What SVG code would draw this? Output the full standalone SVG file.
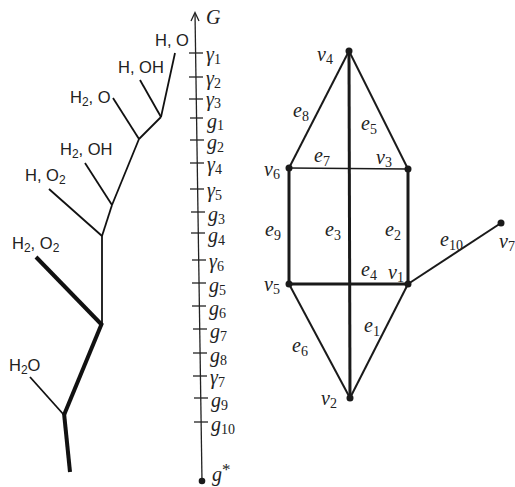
<svg xmlns="http://www.w3.org/2000/svg" width="515" height="487" viewBox="0 0 515 487">
<style>
.t{fill:none;stroke:#111;stroke-width:1.8;stroke-linecap:butt}
.k{fill:none;stroke:#111;stroke-width:4}
.ax{fill:none;stroke:#222;stroke-width:1.3}
.sf{font-family:"Liberation Sans",Arial,sans-serif;font-size:16.5px;fill:#222}
.it{font-family:"Liberation Serif","Times New Roman",serif;font-style:italic;font-size:20px;fill:#222}
.sub{font-size:14px;font-style:normal}
.e1{stroke:#1a1a1a;stroke-width:2;fill:none}
.e2{stroke:#1a1a1a;stroke-width:3;fill:none}
.e0{stroke:#1a1a1a;stroke-width:1.5;fill:none}
.dot{fill:#1a1a1a}
</style>
<g id="tree">
<line class="t" x1="175" y1="53" x2="161" y2="117"/>
<line class="t" x1="140" y1="80" x2="161" y2="117"/>
<line class="t" x1="161" y1="117" x2="139" y2="139"/>
<line class="t" x1="113" y1="98" x2="139" y2="139"/>
<line class="t" x1="139" y1="139" x2="112" y2="205"/>
<line class="t" x1="85" y1="163" x2="112" y2="205"/>
<line class="t" x1="112" y1="205" x2="102" y2="236"/>
<line class="t" x1="49" y1="189" x2="102" y2="236"/>
<line class="t" x1="102" y1="236" x2="102" y2="325"/>
<line class="k" x1="36" y1="257" x2="102" y2="325"/>
<line class="k" x1="102" y1="323" x2="64" y2="415"/>
<line class="t" x1="30" y1="377" x2="64" y2="415"/>
<line class="k" x1="64" y1="413" x2="70" y2="472"/>
<text class="sf" x="155" y="46">H, O</text>
<text class="sf" x="118" y="73">H, OH</text>
<text class="sf" x="70" y="103">H<tspan dy="3" font-size="12">2</tspan><tspan dy="-3">, O</tspan></text>
<text class="sf" x="60" y="155">H<tspan dy="3" font-size="12">2</tspan><tspan dy="-3">, OH</tspan></text>
<text class="sf" x="25" y="181">H, O<tspan dy="3" font-size="12">2</tspan></text>
<text class="sf" x="12" y="249">H<tspan dy="3" font-size="12">2</tspan><tspan dy="-3">, O</tspan><tspan dy="3" font-size="12">2</tspan></text>
<text class="sf" x="9" y="371">H<tspan dy="3" font-size="12">2</tspan><tspan dy="-3">O</tspan></text>
</g>
<g id="axis">
<line class="ax" x1="195" y1="13" x2="202" y2="481"/>
<polyline class="ax" points="191,21 195,12.5 199,21"/>
<text class="it" x="206" y="24">G</text>
<g class="ax">
<line x1="189" y1="53" x2="203" y2="53"/>
<line x1="189" y1="77" x2="203" y2="77"/>
<line x1="189" y1="99" x2="203" y2="99"/>
<line x1="190" y1="118" x2="203" y2="118"/>
<line x1="190" y1="140" x2="204" y2="140"/>
<line x1="190" y1="163" x2="204" y2="163"/>
<line x1="190" y1="189" x2="204" y2="189"/>
<line x1="191" y1="212" x2="205" y2="212"/>
<line x1="191" y1="233" x2="205" y2="233"/>
<line x1="192" y1="260" x2="206" y2="260"/>
<line x1="192" y1="283" x2="206" y2="283"/>
<line x1="192" y1="306" x2="206" y2="306"/>
<line x1="193" y1="329" x2="207" y2="329"/>
<line x1="193" y1="353" x2="207" y2="353"/>
<line x1="193" y1="376" x2="207" y2="376"/>
<line x1="194" y1="398" x2="208" y2="398"/>
<line x1="194" y1="422" x2="208" y2="422"/>
</g>
<g class="it">
<text x="206" y="61">γ<tspan class="sub" dy="3">1</tspan></text>
<text x="206" y="85">γ<tspan class="sub" dy="3">2</tspan></text>
<text x="206" y="106">γ<tspan class="sub" dy="2">3</tspan></text>
<text x="207" y="128">g<tspan class="sub" dy="2">1</tspan></text>
<text x="207" y="149">g<tspan class="sub" dy="3">2</tspan></text>
<text x="207" y="171">γ<tspan class="sub" dy="3">4</tspan></text>
<text x="207" y="197">γ<tspan class="sub" dy="3">5</tspan></text>
<text x="208" y="221">g<tspan class="sub" dy="3">3</tspan></text>
<text x="208" y="242">g<tspan class="sub" dy="3">4</tspan></text>
<text x="209" y="268">γ<tspan class="sub" dy="3">6</tspan></text>
<text x="209" y="292">g<tspan class="sub" dy="3">5</tspan></text>
<text x="209" y="315">g<tspan class="sub" dy="3">6</tspan></text>
<text x="210" y="338">g<tspan class="sub" dy="3">7</tspan></text>
<text x="210" y="362">g<tspan class="sub" dy="3">8</tspan></text>
<text x="210" y="384">γ<tspan class="sub" dy="3">7</tspan></text>
<text x="211" y="407">g<tspan class="sub" dy="3">9</tspan></text>
<text x="211" y="431">g<tspan class="sub" dy="3">10</tspan></text>
<text x="212" y="481">g<tspan dy="-6" font-size="17" font-style="normal">*</tspan></text>
</g>
<circle class="dot" cx="202" cy="481" r="3.3"/>
</g>
<g id="edges">
<line class="e2" x1="349" y1="51" x2="350" y2="398"/>
<line class="e1" x1="349" y1="51" x2="289" y2="168"/>
<line class="e1" x1="349" y1="51" x2="408" y2="169"/>
<line class="e0" x1="289" y1="168" x2="408" y2="169"/>
<line class="e2" x1="289" y1="168" x2="289" y2="284"/>
<line class="e2" x1="408" y1="169" x2="408" y2="284"/>
<line class="e2" x1="289" y1="284" x2="408" y2="284"/>
<line class="e1" x1="289" y1="284" x2="350" y2="398"/>
<line class="e1" x1="408" y1="284" x2="350" y2="398"/>
<line class="e1" x1="408" y1="284" x2="501" y2="223"/>
</g>
<g class="it">
<text x="293" y="117">e<tspan class="sub" dy="4">8</tspan></text>
<text x="361" y="130">e<tspan class="sub" dy="4">5</tspan></text>
<text x="314" y="162">e<tspan class="sub" dy="4">7</tspan></text>
<text x="265" y="236">e<tspan class="sub" dy="4">9</tspan></text>
<text x="325" y="236">e<tspan class="sub" dy="4">3</tspan></text>
<text x="385" y="236">e<tspan class="sub" dy="4">2</tspan></text>
<text x="440" y="246">e<tspan class="sub" dy="4">10</tspan></text>
<text x="361" y="276">e<tspan class="sub" dy="4">4</tspan></text>
<text x="364" y="332">e<tspan class="sub" dy="4">1</tspan></text>
<text x="292" y="352">e<tspan class="sub" dy="4">6</tspan></text>
</g>
<g id="v4"><circle class="dot" cx="349" cy="51" r="3.5"/><text class="it" x="317" y="61">v<tspan class="sub" dy="3">4</tspan></text></g>
<g id="v6"><circle class="dot" cx="289" cy="168" r="3.5"/><text class="it" x="264" y="176">v<tspan class="sub" dy="3">6</tspan></text></g>
<g id="v3"><circle class="dot" cx="408" cy="169" r="3.5"/><text class="it" x="376" y="164">v<tspan class="sub" dy="3">3</tspan></text></g>
<g id="v5"><circle class="dot" cx="289" cy="284" r="3.5"/><text class="it" x="264" y="291">v<tspan class="sub" dy="3">5</tspan></text></g>
<g id="v1"><circle class="dot" cx="408" cy="284" r="3.5"/><text class="it" x="388" y="279">v<tspan class="sub" dy="3">1</tspan></text></g>
<g id="v2"><circle class="dot" cx="350" cy="398" r="3.5"/><text class="it" x="321" y="405">v<tspan class="sub" dy="3">2</tspan></text></g>
<g id="v7"><circle class="dot" cx="501" cy="223" r="3.5"/><text class="it" x="499" y="248">v<tspan class="sub" dy="3">7</tspan></text></g>
</svg>
